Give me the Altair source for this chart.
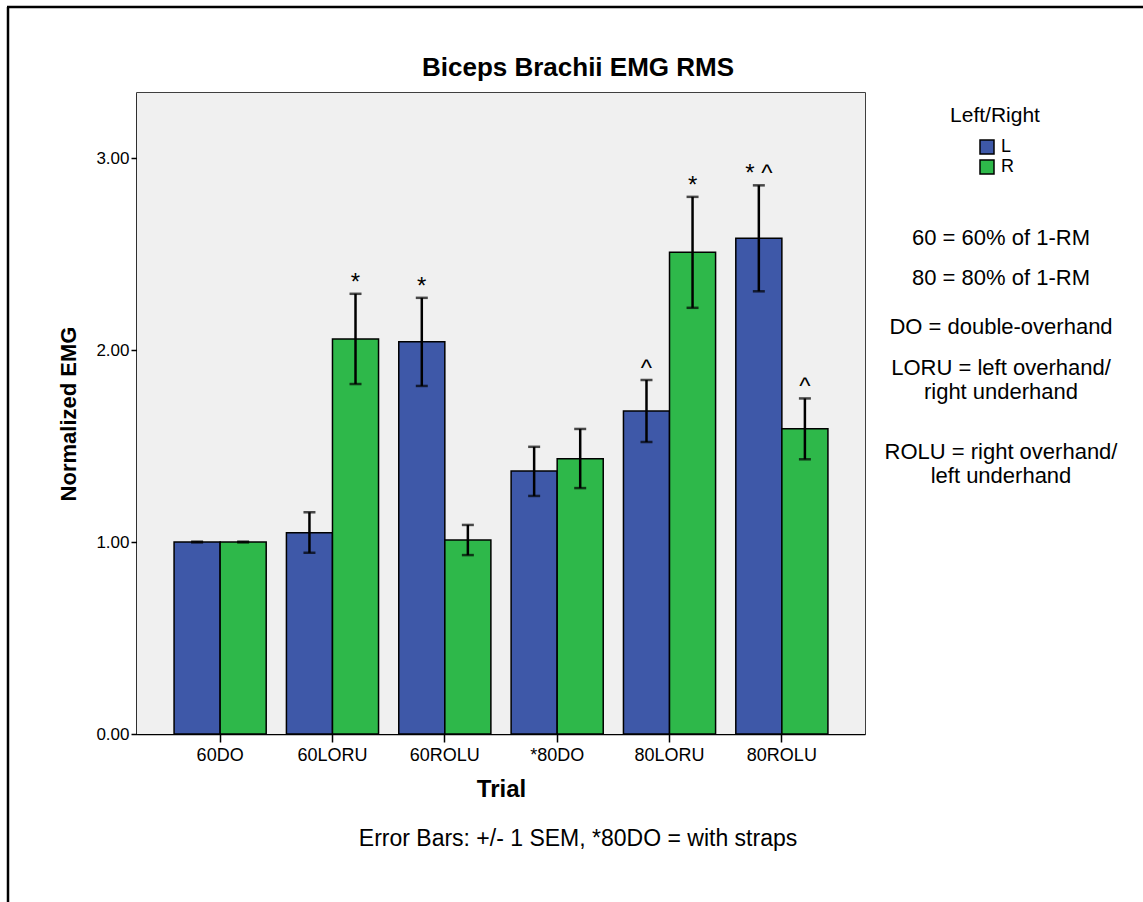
import altair as alt
import pandas as pd

trials = ["60DO", "60LORU", "60ROLU", "*80DO", "80LORU", "80ROLU"]
sides = ["L", "R"]
left_mean = [1.000, 1.048, 2.043, 1.370, 1.682, 2.582]
left_hi = [1.002, 1.155, 2.272, 1.496, 1.844, 2.858]
left_lo = [0.998, 0.944, 1.813, 1.240, 1.521, 2.306]
right_mean = [1.000, 2.057, 1.010, 1.434, 2.509, 1.590]
right_hi = [1.002, 2.293, 1.089, 1.589, 2.798, 1.748]
right_lo = [0.998, 1.823, 0.932, 1.281, 2.220, 1.431]
left_mark = ["", "", "*", "", "^", "* ^"]
right_mark = ["", "*", "", "", "*", "^"]

title_text = "Biceps Brachii EMG RMS"
footnote_text = "Error Bars: +/- 1 SEM, *80DO = with straps"
notes = ["60 = 60% of 1-RM", "80 = 80% of 1-RM", "DO = double-overhand",
         "LORU = left overhand/", "right underhand",
         "ROLU = right overhand/", "left underhand"]
note_y = [145, 185, 234, 275, 299, 359, 383]

rows = []
for i, t in enumerate(trials):
    rows.append({"Trial": t, "Side": "L", "mean": left_mean[i], "hi": left_hi[i],
                 "lo": left_lo[i], "mark": left_mark[i]})
    rows.append({"Trial": t, "Side": "R", "mean": right_mean[i], "hi": right_hi[i],
                 "lo": right_lo[i], "mark": right_mark[i]})
df = pd.DataFrame(rows)

FONT = "Liberation Sans"
W, H = 728, 641

xs = alt.Scale(domain=trials, paddingInner=0.18, paddingOuter=0.33)
xo = alt.Scale(domain=sides, paddingInner=0, paddingOuter=0)
ys = alt.Scale(domain=[0, 3.339], nice=False, zero=True)
cs = alt.Scale(domain=sides, range=["#3E58A8", "#2EB84A"])

xenc = alt.X("Trial:N", scale=xs, sort=trials,
             axis=alt.Axis(title="Trial", labelAngle=0, labelFontSize=18,
                           labelPadding=4, tickSize=8, tickWidth=1.5,
                           tickColor="black", domainColor="black", domainWidth=1.5,
                           titleFontSize=24, titleFontWeight="bold", titlePadding=13,
                           labelColor="black", titleColor="black",
                           labelFont=FONT, titleFont=FONT))
xoff = alt.XOffset("Side:N", scale=xo, sort=sides)

base = alt.Chart(df)

background = alt.Chart(pd.DataFrame({"k": [0]})).mark_rect(fill="#F0F0F0").encode(
    x=alt.value(0), x2=alt.value(W), y=alt.value(0), y2=alt.value(H))

bars = base.mark_bar(stroke="black", strokeWidth=1.5).encode(
    x=xenc, xOffset=xoff,
    y=alt.Y("mean:Q", scale=ys,
            axis=alt.Axis(title="Normalized EMG", values=[0, 1, 2, 3], format=".2f",
                          labelFontSize=17, tickSize=6, tickWidth=1.5, tickColor="black",
                          domainColor="black", domainWidth=1.5, grid=False,
                          titleFontSize=22, titleFontWeight="bold", titlePadding=15,
                          labelColor="black", titleColor="black",
                          labelFont=FONT, titleFont=FONT)),
    color=alt.Color("Side:N", scale=cs,
                    legend=alt.Legend(title=None, orient="none", legendX=841, legendY=45,
                                      symbolType="square", symbolSize=196,
                                      symbolStrokeColor="black", symbolStrokeWidth=1.5,
                                      labelFontSize=18, labelFont=FONT, rowPadding=0,
                                      labelColor="black", symbolOpacity=1, labelOffset=5)),
)

err = base.mark_rule(color="black", strokeWidth=2.5).encode(
    x=alt.X("Trial:N", scale=xs, sort=trials), xOffset=xoff,
    y=alt.Y("lo:Q", scale=ys), y2="hi:Q")
cap_hi = base.mark_tick(color="black", thickness=2.5, size=12, orient="horizontal").encode(
    x=alt.X("Trial:N", scale=xs, sort=trials), xOffset=xoff, y=alt.Y("hi:Q", scale=ys))
cap_lo = base.mark_tick(color="black", thickness=2.5, size=12, orient="horizontal").encode(
    x=alt.X("Trial:N", scale=xs, sort=trials), xOffset=xoff, y=alt.Y("lo:Q", scale=ys))

ann = base.mark_text(font=FONT, fontSize=24, baseline="alphabetic", dy=-4, color="black").encode(
    x=alt.X("Trial:N", scale=xs, sort=trials), xOffset=xoff,
    y=alt.Y("hi:Q", scale=ys), text="mark:N")

one = pd.DataFrame({"k": [0]})
frame_left = alt.Chart(one).mark_rule(color="black", strokeWidth=2.5, clip=False).encode(
    x=alt.value(-129), y=alt.value(-86), y2=alt.value(809))
frame_top = alt.Chart(one).mark_rule(color="black", strokeWidth=2.5, clip=False).encode(
    x=alt.value(-130), x2=alt.value(1006), y=alt.value(-86))

title_layer = alt.Chart(pd.DataFrame({"t": [title_text]})).mark_text(
    font=FONT, fontSize=26, fontWeight="bold", color="black").encode(
    x=alt.value(441), y=alt.value(-25), text="t:N")

legend_title = alt.Chart(pd.DataFrame({"t": ["Left/Right"]})).mark_text(
    font=FONT, fontSize=21, color="black").encode(
    x=alt.value(858), y=alt.value(23), text="t:N")

footnote = alt.Chart(pd.DataFrame({"t": [footnote_text]})).mark_text(
    font=FONT, fontSize=23, color="black").encode(
    x=alt.value(441), y=alt.value(746), text="t:N")

note_layers = []
for txt, yy in zip(notes, note_y):
    note_layers.append(
        alt.Chart(pd.DataFrame({"t": [txt]})).mark_text(
            font=FONT, fontSize=22, color="black").encode(
            x=alt.value(864), y=alt.value(yy), text="t:N"))

chart = alt.layer(background, bars, err, cap_hi, cap_lo, ann, frame_left, frame_top,
                  title_layer, legend_title, footnote, *note_layers).properties(
    width=W, height=H,
    background="white",
    autosize=alt.AutoSizeParams(type="none"),
    padding={"left": 137, "top": 93, "right": 278, "bottom": 168},
).configure_view(
    stroke="black", strokeWidth=1.5
)

chart.save("out.html", embed_options={"renderer": "svg", "actions": False})
